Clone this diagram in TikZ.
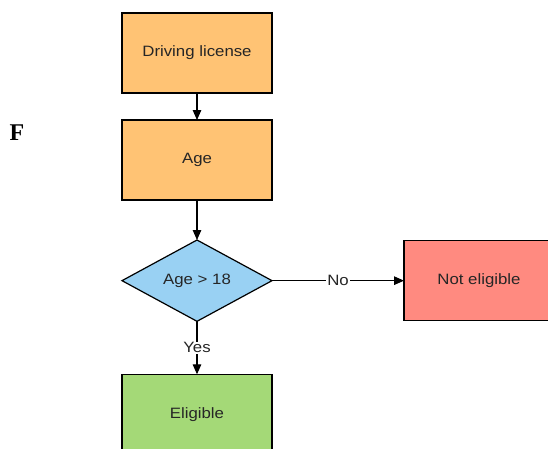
\documentclass[tikz,border=0pt]{standalone}
\usepackage{fontspec}
\setmainfont[FakeStretch=1.12]{Liberation Sans}
\newfontfamily\headfont{Liberation Serif}
\usepackage{xcolor}
\usetikzlibrary{arrows.meta,shapes.geometric,positioning}
\definecolor{boxorange}{HTML}{FFC374}
\definecolor{boxblue}{HTML}{99D1F3}
\definecolor{boxred}{HTML}{FF8A80}
\definecolor{boxgreen}{HTML}{A4D977}
\definecolor{inkgray}{HTML}{262626}

\begin{document}
\begin{tikzpicture}[x=1pt,y=1pt,>={Triangle[length=10pt,width=8.5pt]},line width=1.2pt,
    font=\fontsize{15}{17}\selectfont,
    box/.style={draw,rectangle,minimum width=150pt,minimum height=80pt,inner sep=0pt,outer sep=0pt,text=inkgray},
    decision/.style={draw,diamond,minimum width=150pt,minimum height=77pt,inner sep=0pt,outer sep=0pt,fill=boxblue,text=inkgray},
    lbl/.style={fill=white,inner sep=1pt,text=inkgray}]
  \clip (0,0) rectangle (548,-448);
  \node[box,fill=boxorange] (license) at (197,-53) {Driving license};
  \node[box,fill=boxorange] (age) [below=27pt of license] {Age};
  \node[decision] (check) [below=40pt of age] {Age > 18};
  \node[box,fill=boxred] (noteligible) [right=132pt of check] {Not eligible};
  \node[box,fill=boxgreen] (eligible) [below=53pt of check] {Eligible};
  \node[font=\headfont\bfseries\fontsize{24}{24}\selectfont] (fig) at (17,-133) {F};

  \path[->] (license) edge (age)
        (age) edge (check)
        (check) edge node[lbl] {No} (noteligible)
                edge node[lbl] {Yes} (eligible);
\end{tikzpicture}
\end{document}
